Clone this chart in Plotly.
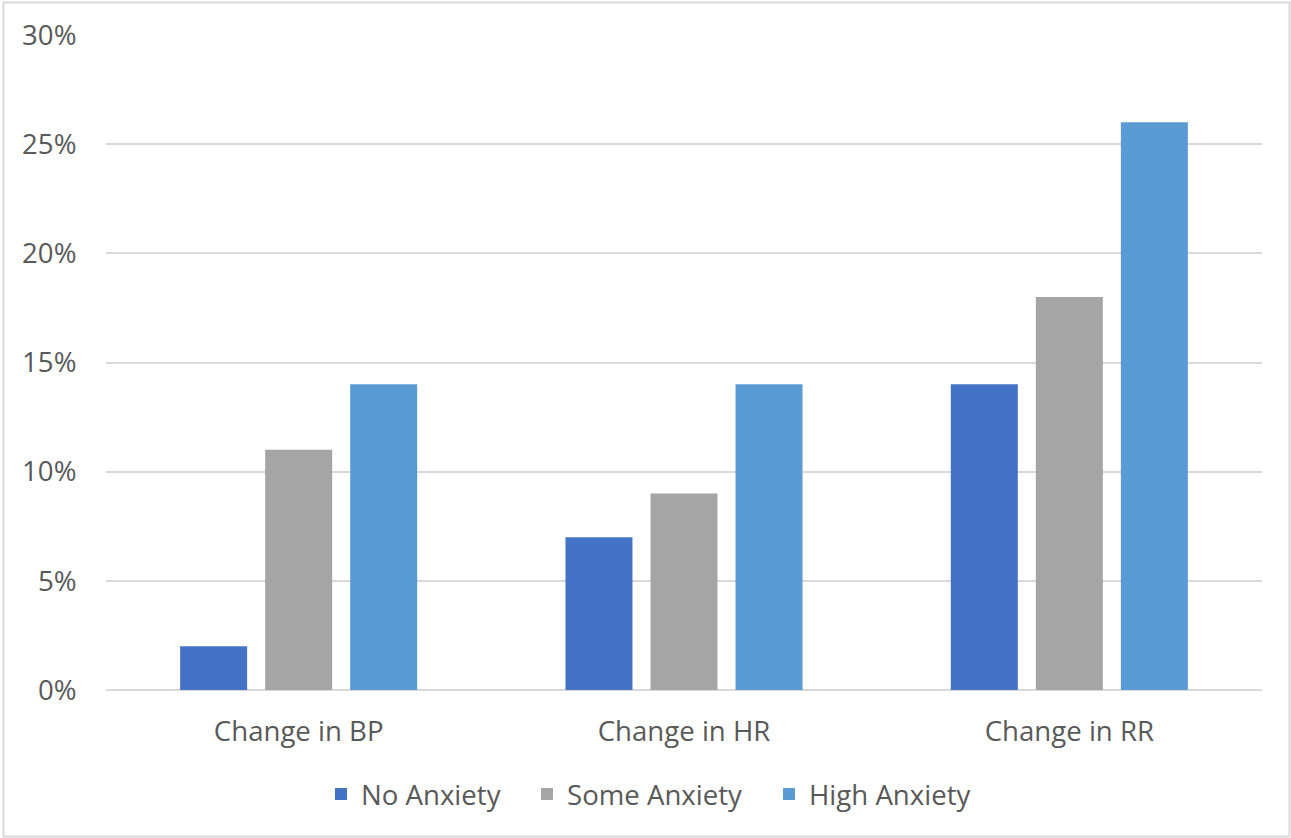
import plotly.graph_objects as go

# Chart data
categories = ["Change in BP", "Change in HR", "Change in RR"]
series_names = ["No Anxiety", "Some Anxiety", "High Anxiety"]
no_anxiety = [0.02, 0.07, 0.14]
some_anxiety = [0.11, 0.09, 0.18]
high_anxiety = [0.14, 0.14, 0.26]
y_ticks = [0, 0.05, 0.10, 0.15, 0.20, 0.25, 0.30]

colors = ["#4472C4", "#A5A5A5", "#5B9BD5"]
text_color = "#595959"
grid_color = "#D9D9D9"
font_family = "Open Sans"
font_size = 27.6

W, H = 1291, 838
L, R, T, B = 106, 29, 35, 148
pw, ph = W - L - R, H - T - B


def px_x(x):
    return (x - L) / pw


def px_y(y):
    return (H - B - y) / ph


# each series gets its own legend box so the entries can be spaced freely
legend_ids = ["legend", "legend2", "legend3"]
legend_left_px = [321, 527, 769]

fig = go.Figure()
for name, vals, col, lg in zip(series_names, [no_anxiety, some_anxiety, high_anxiety], colors, legend_ids):
    fig.add_trace(go.Bar(
        x=categories, y=vals, name=name, legend=lg,
        marker=dict(color=col, line=dict(width=0)),
    ))

legend_style = dict(
    orientation="h", xanchor="left", yanchor="middle",
    y=px_y(794),
    font=dict(family=font_family, size=font_size, color=text_color),
    bgcolor="rgba(0,0,0,0)", borderwidth=0,
)
legends = {}
for lg, left in zip(legend_ids, legend_left_px):
    legends[lg] = dict(legend_style, x=px_x(left))

fig.update_layout(
    width=W, height=H,
    margin=dict(l=L, r=R, t=T, b=B),
    paper_bgcolor="white", plot_bgcolor="white",
    barmode="group", bargap=0.338, bargroupgap=0.212,
    font=dict(family=font_family, size=font_size, color=text_color),
    showlegend=True,
    xaxis=dict(
        showgrid=False, showline=False, zeroline=False,
        ticks="outside", ticklen=17, tickcolor="rgba(0,0,0,0)",
        tickfont=dict(size=font_size, color=text_color),
    ),
    yaxis=dict(
        range=[0, 0.30], tickvals=y_ticks, tickformat=".0%",
        showgrid=True, gridcolor=grid_color, gridwidth=2,
        zeroline=True, zerolinecolor=grid_color, zerolinewidth=2,
        showline=False,
        ticks="outside", ticklen=23, tickcolor="rgba(0,0,0,0)",
        tickfont=dict(size=font_size, color=text_color),
    ),
    shapes=[dict(
        type="rect", xref="paper", yref="paper",
        x0=px_x(3.5), x1=px_x(1289.5), y0=px_y(836.5), y1=px_y(2.5),
        line=dict(color=grid_color, width=2), fillcolor="rgba(0,0,0,0)",
        layer="below",
    )],
    **legends,
)

fig.write_html("out.html")
